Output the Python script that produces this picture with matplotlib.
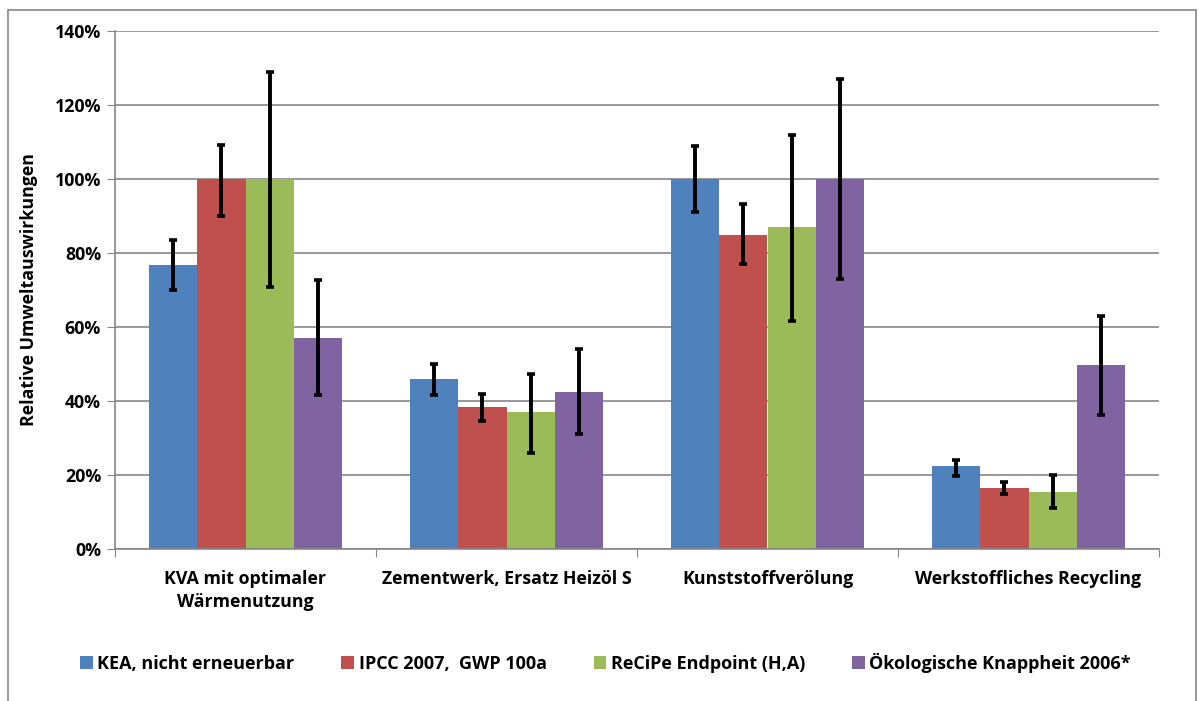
import numpy as np
import matplotlib.pyplot as plt
from matplotlib.patches import Rectangle
from matplotlib.ticker import PercentFormatter

plt.rcParams['font.family'] = ['Open Sans', 'DejaVu Sans']
plt.rcParams['font.weight'] = 'bold'
plt.rcParams['axes.labelweight'] = 'bold'

categories = ["KVA mit optimaler\nWärmenutzung", "Zementwerk, Ersatz Heizöl S",
              "Kunststoffverölung", "Werkstoffliches Recycling"]
series = ["KEA, nicht erneuerbar", "IPCC 2007,  GWP 100a",
          "ReCiPe Endpoint (H,A)", "Ökologische Knappheit 2006*"]
colors = ["#4F81BD", "#C0504D", "#9BBB59", "#8064A2"]

# values in %, per series (one value per category)
kea = [76.7, 46.0, 100.0, 22.3]
ipcc = [100.0, 38.5, 85.0, 16.5]
recipe = [100.0, 37.0, 87.0, 15.4]
ubp = [57.0, 42.5, 100.0, 49.7]

# error bar lower / upper ends in %
kea_lo = [70.0, 41.5, 91.0, 19.8]
kea_hi = [83.5, 50.0, 109.0, 24.0]
ipcc_lo = [90.0, 34.5, 77.0, 15.0]
ipcc_hi = [109.3, 42.0, 93.3, 18.0]
recipe_lo = [70.7, 26.0, 61.5, 11.0]
recipe_hi = [128.8, 47.3, 112.0, 20.0]
ubp_lo = [41.5, 31.0, 73.0, 36.3]
ubp_hi = [72.7, 54.0, 127.0, 63.1]

values = [kea, ipcc, recipe, ubp]
lows = [kea_lo, ipcc_lo, recipe_lo, ubp_lo]
highs = [kea_hi, ipcc_hi, recipe_hi, ubp_hi]

fig = plt.figure(figsize=(11.99, 7.01), dpi=100)
ax = fig.add_axes([115 / 1199, 1 - 549 / 701, (1159 - 115) / 1199, (549 - 31) / 701])

x = np.arange(len(categories))
w = 0.184
for i in range(4):
    pos = x + (i - 1.5) * w
    v = np.array(values[i])
    err = [v - np.array(lows[i]), np.array(highs[i]) - v]
    ax.bar(pos, v, w, color=colors[i], label=series[i], zorder=2)
    ax.errorbar(pos, v, yerr=err, fmt='none', ecolor='black', elinewidth=2.8,
                capsize=3, capthick=2.6, zorder=3)

ax.set_ylim(0, 140)
ax.set_xlim(-0.5, 3.5)
ax.set_yticks(np.arange(0, 141, 20))
ax.yaxis.set_major_formatter(PercentFormatter(decimals=0))
ax.yaxis.grid(True, color='#868686', linewidth=1.2, zorder=0)
ax.set_axisbelow(True)

ax.set_xticks(np.arange(-0.5, 4, 1))
ax.set_xticklabels([])
ax.set_xticks(x, minor=True)
ax.set_xticklabels(categories, minor=True, fontsize=12.8, linespacing=1.35)
ax.tick_params(axis='x', which='minor', length=0, pad=15)
ax.tick_params(axis='x', which='major', length=6, color='#868686', direction='out')
ax.tick_params(axis='y', length=6, color='#868686', labelsize=12.8, pad=4)

for s in ['top', 'right']:
    ax.spines[s].set_visible(False)
for s in ['left', 'bottom']:
    ax.spines[s].set_color('#868686')
    ax.spines[s].set_linewidth(1.2)

ax.set_ylabel("Relative Umweltauswirkungen", fontsize=12.8, labelpad=12)

fig.legend(loc='center', bbox_to_anchor=(0.505, 1 - 663 / 701), ncol=4, frameon=False,
           fontsize=13, handlelength=0.7, handleheight=0.75, handletextpad=0.25,
           columnspacing=2.6)

fig.patches.append(Rectangle((8 / 1199, -0.05), (1196 - 8) / 1199, 1.05 - 10 / 701,
                             transform=fig.transFigure, fill=False,
                             edgecolor='#868686', linewidth=1.2))

fig.savefig("out.png", dpi=100)
